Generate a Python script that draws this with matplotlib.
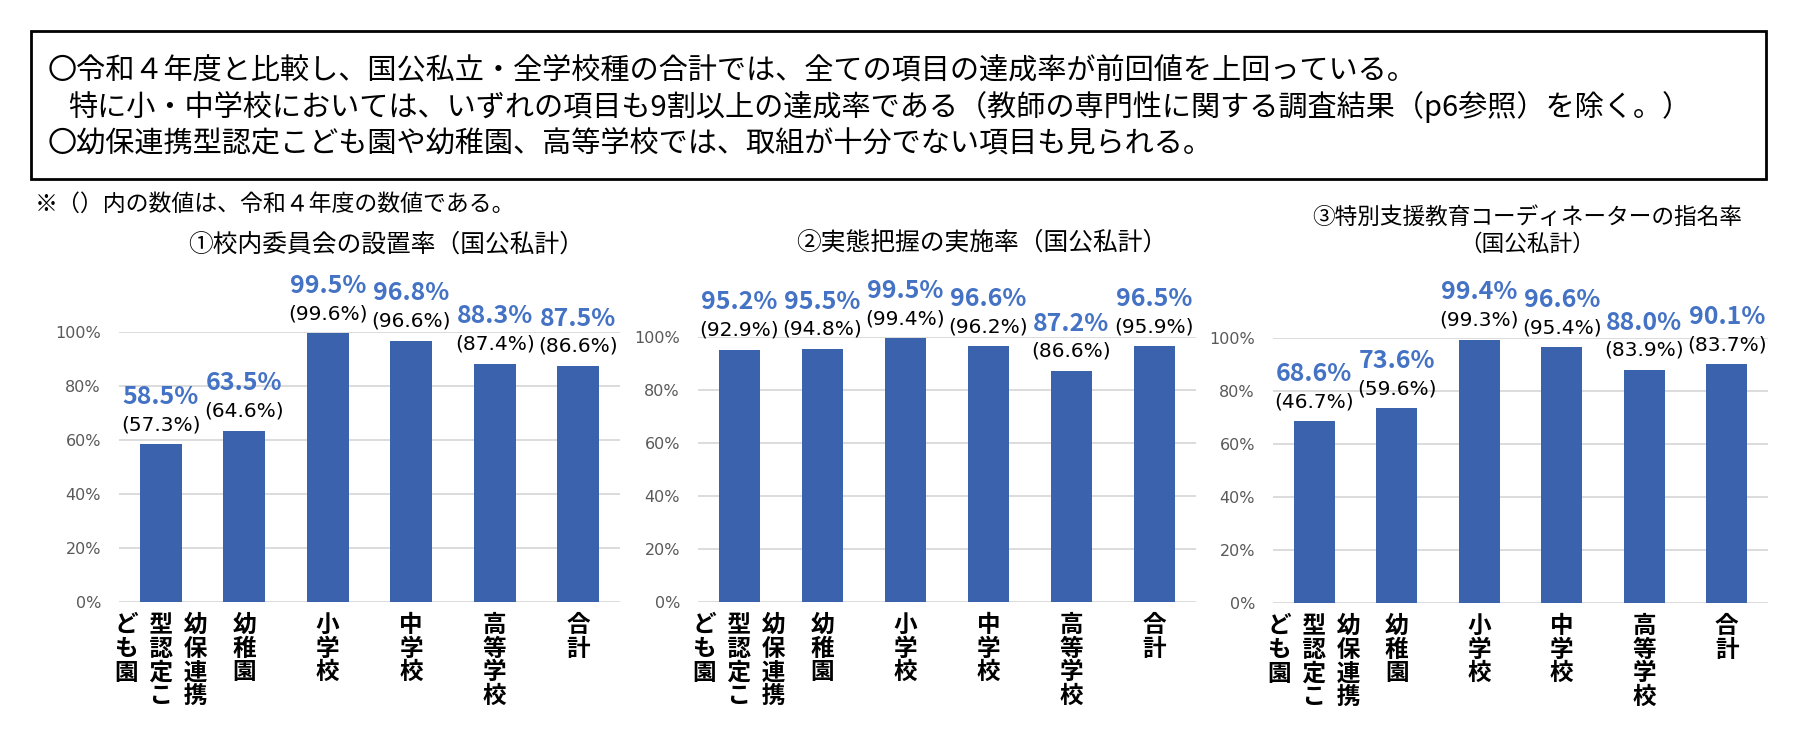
import matplotlib
matplotlib.use("Agg")
import matplotlib.pyplot as plt
from matplotlib.patches import Rectangle

plt.rcParams['font.family'] = ['Noto Sans CJK JP', 'DejaVu Sans']

# ---------------- data ----------------
categories = ['幼保連携型認定こども園', '幼稚園', '小学校', '中学校', '高等学校', '合計']
titles = ['①校内委員会の設置率（国公私計）',
          '②実態把握の実施率（国公私計）',
          '③特別支援教育コーディネーターの指名率\n（国公私計）']
p1_r5 = [58.5, 63.5, 99.5, 96.8, 88.3, 87.5]
p1_r4 = [57.3, 64.6, 99.6, 96.6, 87.4, 86.6]
p2_r5 = [95.2, 95.5, 99.5, 96.6, 87.2, 96.5]
p2_r4 = [92.9, 94.8, 99.4, 96.2, 86.6, 95.9]
p3_r5 = [68.6, 73.6, 99.4, 96.6, 88.0, 90.1]
p3_r4 = [46.7, 59.6, 99.3, 95.4, 83.9, 83.7]
yticks = [0, 20, 40, 60, 80, 100]
ytick_labels = ['0%', '20%', '40%', '60%', '80%', '100%']

box_lines = ['〇令和４年度と比較し、国公私立・全学校種の合計では、全ての項目の達成率が前回値を上回っている。',
             '特に小・中学校においては、いずれの項目も9割以上の達成率である（教師の専門性に関する調査結果（p6参照）を除く。）',
             '〇幼保連携型認定こども園や幼稚園、高等学校では、取組が十分でない項目も見られる。']
note_text = '※（）内の数値は、令和４年度の数値である。'

BAR = '#3B63AD'
LBL = '#4472C4'
GRID = '#D9D9D9'
TICK = '#595959'


def vertical(label, per_col=4):
    cols = [label[i:i + per_col] for i in range(0, len(label), per_col)]
    if len(cols) == 1:
        return '\n'.join(label)
    cols = cols[::-1]  # right-to-left
    rows = []
    for r in range(per_col):
        cells = []
        for c in cols:
            cells.append(c[r] if r < len(c) else '\u3000')
        rows.append('  '.join(cells))
    return '\n'.join(rows)


W, H = 1796, 746
fig = plt.figure(figsize=(W / 100, H / 100), dpi=100)

# summary box
fig.patches.append(Rectangle((31 / W, 1 - 179 / H), (1766 - 31) / W, (179 - 31) / H,
                             transform=fig.transFigure, fill=False, edgecolor='black',
                             linewidth=2.0))
fig.text(48 / W, 1 - 71 / H, box_lines[0], fontsize=21, va='center', ha='left')
fig.text(68 / W, 1 - 107 / H, box_lines[1], fontsize=21, va='center', ha='left')
fig.text(48 / W, 1 - 144 / H, box_lines[2], fontsize=21, va='center', ha='left')
fig.text(35 / W, 1 - 204 / H, note_text, fontsize=16.5, va='center', ha='left')

panels = [
    (p1_r5, p1_r4, (119, 620, 332, 602), (386, 245), 17.8),
    (p2_r5, p2_r4, (698, 1196, 337, 602), (982, 243), 17.8),
    (p3_r5, p3_r4, (1273, 1768, 338, 603), (1527, 231), 16.3),
]

x = list(range(len(categories)))
for (r5, r4, (xl, xr, yt, yb), (tx, ty), tfs), title in zip(panels, titles):
    ax = fig.add_axes([xl / W, 1 - yb / H, (xr - xl) / W, (yb - yt) / H])
    ax.bar(x, r5, width=0.5, color=BAR, zorder=3)
    ax.set_xlim(-0.5, len(categories) - 0.5)
    ax.set_ylim(0, 100)
    ax.set_yticks(yticks)
    ax.set_yticklabels(ytick_labels, fontsize=11.5, color=TICK, family='DejaVu Sans')
    ax.yaxis.grid(True, color=GRID, linewidth=1.3, zorder=0)
    ax.set_axisbelow(True)
    for s in ax.spines.values():
        s.set_visible(False)
    ax.tick_params(axis='y', length=0, pad=13)
    ax.tick_params(axis='x', length=0, pad=8)
    ax.set_xticks(x)
    ax.set_xticklabels([vertical(c) for c in categories], fontsize=17, fontweight='bold',
                       va='top', linespacing=0.98)
    for xi, v5, v4 in zip(x, r5, r4):
        ax.annotate(f'({v4:.1f}%)', (xi, v5), xytext=(0, 14), textcoords='offset points',
                    ha='center', va='center', fontsize=14.5, family='DejaVu Sans',
                    color='black', annotation_clip=False)
        ax.annotate(f'{v5:.1f}%', (xi, v5), xytext=(0, 34), textcoords='offset points',
                    ha='center', va='center', fontsize=18, fontweight='bold',
                    color=LBL, annotation_clip=False)
    fig.text(tx / W, 1 - ty / H, title, fontsize=tfs, ha='center', va='center',
             linespacing=1.2)

fig.savefig('out.png', dpi=100)
